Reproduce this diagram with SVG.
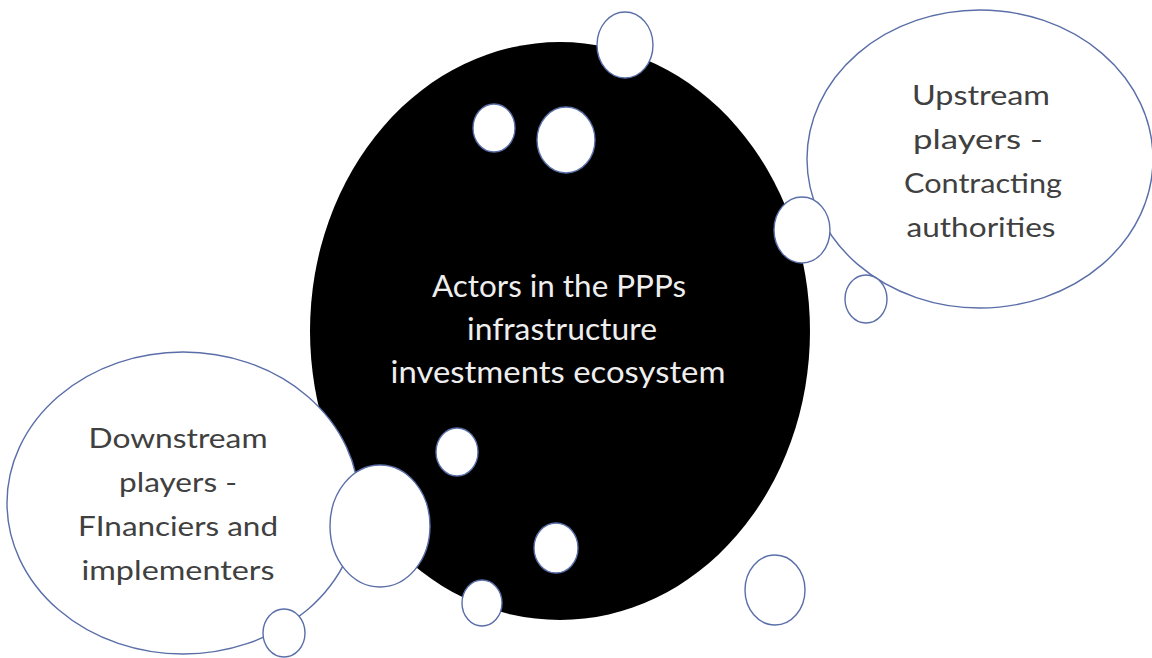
<svg xmlns="http://www.w3.org/2000/svg" width="1152" height="658" viewBox="0 0 1152 658">
  <style>
    .bubble { fill: #ffffff; stroke: #5a6ea8; stroke-width: 1.4; }
    .dot { fill: #ffffff; stroke: #5a6ea8; stroke-width: 1.4; }
    .lbl { font-family: Lato, "Open Sans", "Liberation Sans", sans-serif; font-size: 26px; fill: #404040; text-anchor: middle; }
    .core { font-family: Lato, "Open Sans", "Liberation Sans", sans-serif; font-size: 30px; fill: #eeeeee; text-anchor: middle; }
  </style>
  <rect width="1152" height="658" fill="#ffffff"/>

  <g id="core">
    <ellipse cx="560" cy="331" rx="250" ry="289" fill="#000000"/>
    <text class="core" x="559" y="297" textLength="254" lengthAdjust="spacingAndGlyphs">Actors in the PPPs</text>
    <text class="core" x="562" y="340" textLength="190" lengthAdjust="spacingAndGlyphs">infrastructure</text>
    <text class="core" x="558" y="383" textLength="335" lengthAdjust="spacingAndGlyphs">investments ecosystem</text>
  </g>

  <g id="downstream">
    <ellipse class="bubble" cx="183" cy="503" rx="176" ry="151"/>
    <text class="lbl" x="178" y="448" textLength="179" lengthAdjust="spacingAndGlyphs">Downstream</text>
    <text class="lbl" x="178" y="492" textLength="118" lengthAdjust="spacingAndGlyphs">players -</text>
    <text class="lbl" x="178" y="536" textLength="200" lengthAdjust="spacingAndGlyphs">FInanciers and</text>
    <text class="lbl" x="178" y="580" textLength="193" lengthAdjust="spacingAndGlyphs">implementers</text>
  </g>

  <g id="upstream">
    <ellipse class="bubble" cx="980" cy="159" rx="173" ry="149"/>
    <text class="lbl" x="981" y="105" textLength="138" lengthAdjust="spacingAndGlyphs">Upstream</text>
    <text class="lbl" x="978" y="149" textLength="130" lengthAdjust="spacingAndGlyphs">players -</text>
    <text class="lbl" x="983" y="193" textLength="158" lengthAdjust="spacingAndGlyphs">Contracting</text>
    <text class="lbl" x="981" y="237" textLength="149" lengthAdjust="spacingAndGlyphs">authorities</text>
  </g>

  <g id="dots">
    <ellipse class="dot" cx="625" cy="45" rx="28" ry="33"/>
    <ellipse class="dot" cx="494" cy="128" rx="21" ry="24"/>
    <ellipse class="dot" cx="566" cy="140" rx="29" ry="33"/>
    <ellipse class="dot" cx="802" cy="230" rx="28" ry="33"/>
    <ellipse class="dot" cx="866" cy="299" rx="21" ry="24"/>
    <ellipse class="dot" cx="457" cy="452" rx="21" ry="24"/>
    <ellipse class="dot" cx="380" cy="526" rx="50" ry="61"/>
    <ellipse class="dot" cx="556" cy="548" rx="22" ry="25"/>
    <ellipse class="dot" cx="482" cy="603" rx="20" ry="23"/>
    <ellipse class="dot" cx="775" cy="590" rx="30" ry="35"/>
    <ellipse class="dot" cx="284" cy="633" rx="21" ry="24"/>
  </g>
</svg>
